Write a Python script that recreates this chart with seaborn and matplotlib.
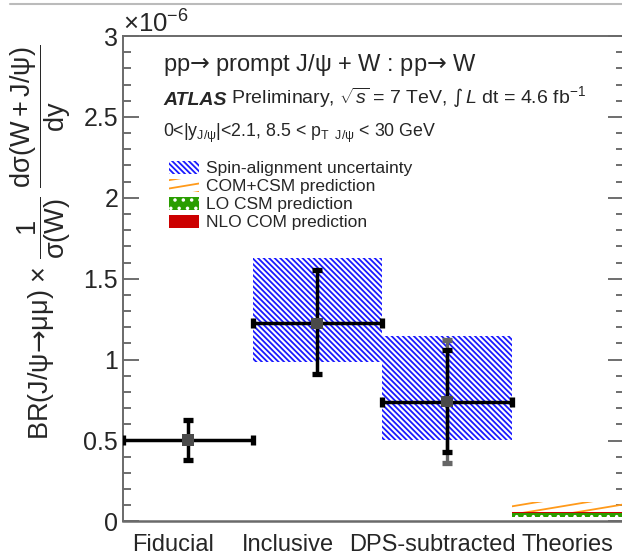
import warnings
import numpy as np
import matplotlib
matplotlib.use("Agg")
import matplotlib.pyplot as plt
from matplotlib.patches import Patch
from matplotlib.lines import Line2D
from matplotlib import hatch as mhatch
from matplotlib.path import Path
import seaborn as sns
import pandas as pd

warnings.filterwarnings("ignore")

# ---------------- data (values in units of 1e-6) ----------------
categories = ["Fiducial", "Inclusive", "DPS-subtracted", "Theories"]
meas_x = [0.5, 1.5, 2.5]
meas_val = [0.503, 1.224, 0.740]
meas_xerr = [0.5, 0.5, 0.5]
stat_lo = [0.123, 0.313, 0.309]
stat_hi = [0.124, 0.330, 0.320]
# outer (gray) uncertainty for DPS-subtracted
dps_outer_lo = [0.377]
dps_outer_hi = [0.381]
# spin-alignment uncertainty boxes (Inclusive, DPS-subtracted)
spin_x = [1.5, 2.5]
spin_lo = [0.987, 0.503]
spin_hi = [1.626, 1.146]
# theory predictions (Theories bin)
theory_names = ["COM+CSM prediction", "LO CSM prediction", "NLO COM prediction"]
theory_lo = [0.058, 0.029, 0.050]
theory_hi = [0.122, 0.050, 0.060]
legend_labels = ["Spin-alignment uncertainty", "COM+CSM prediction",
                 "LO CSM prediction", "NLO COM prediction"]


# shallow slanted hatch (ROOT-like), registered as hatch character 's'
class ShallowHatch(mhatch.HatchPatternBase):
    def __init__(self, hatch, density):
        self.num_lines = int(hatch.count("s") * density)
        self.num_vertices = self.num_lines * 4

    def set_vertices_and_codes(self, vertices, codes):
        n = self.num_lines
        steps, stepsize = np.linspace(0.0, 1.0, n, False, retstep=True)
        rise = 2 * stepsize
        v = vertices.reshape(n, 4, 2)
        v[:, 0, 0] = 0.0
        v[:, 0, 1] = steps
        v[:, 1, 0] = 1.0
        v[:, 1, 1] = steps + rise
        v[:, 2, 0] = 0.0
        v[:, 2, 1] = steps - 1.0
        v[:, 3, 0] = 1.0
        v[:, 3, 1] = steps + rise - 1.0
        codes[0::2] = Path.MOVETO
        codes[1::2] = Path.LINETO


if ShallowHatch not in mhatch._hatch_types:
    mhatch._hatch_types.append(ShallowHatch)

# ---------------- style ----------------
sns.set_style("white")
plt.rcParams["font.family"] = ["Liberation Sans", "DejaVu Sans"]
plt.rcParams["mathtext.fontset"] = "custom"
plt.rcParams["mathtext.rm"] = "Liberation Sans"
plt.rcParams["mathtext.it"] = "Liberation Sans:italic"
plt.rcParams["mathtext.bf"] = "Liberation Sans:bold"
plt.rcParams["mathtext.cal"] = "DejaVu Sans"
plt.rcParams["mathtext.default"] = "regular"
plt.rcParams["hatch.linewidth"] = 1.3

ARROW = r"\mathcal{→}"

W, H = 622, 557
fig = plt.figure(figsize=(W / 100, H / 100), dpi=100)
ax = fig.add_axes([123 / W, (H - 521.4) / H, (624 - 123) / W, (521.4 - 36) / H])

xmax = (624 - 123) / 129.5
ax.set_xlim(0, xmax)
ax.set_ylim(0, 3.0)

blue = "#1a1aff"
orange = "#ff9a1a"
green = "#2a9d00"
red = "#cc0000"
spin_hatch = "\\" * 6

# spin-alignment hatched boxes
ax.bar(spin_x, np.array(spin_hi) - np.array(spin_lo), bottom=spin_lo, width=1.0,
       fill=False, hatch=spin_hatch, edgecolor=blue, linewidth=0, zorder=1)

# theory bands
th_styles = {"COM+CSM prediction": ("none", orange, "ss"),
             "LO CSM prediction": (green, "white", ".."),
             "NLO COM prediction": (red, red, None)}
for name, lo, hi in zip(theory_names, theory_lo, theory_hi):
    fc, ec, hatch = th_styles[name]
    ax.fill_between([3.0, 4.0], [lo, lo], [hi, hi], facecolor=fc, edgecolor=ec,
                    hatch=hatch, linewidth=0, zorder=1)

# DPS outer (gray) error bar
ax.errorbar([meas_x[2]], [meas_val[2]], yerr=[dps_outer_lo, dps_outer_hi],
            fmt="none", ecolor="#666666", elinewidth=2.4, capsize=3.8,
            capthick=3.8, zorder=2)
# main error bars
ax.errorbar(meas_x, meas_val, xerr=meas_xerr, yerr=[stat_lo, stat_hi],
            fmt="none", ecolor="black", elinewidth=2.5, capsize=3.8,
            capthick=3.8, zorder=3)
df = pd.DataFrame({"x": meas_x, "y": meas_val})
sns.scatterplot(data=df, x="x", y="y", marker="s", s=70, color="#4a4a4a",
                edgecolor="none", ax=ax, zorder=4, legend=False)

# axes styling
for side in ["left", "right", "top", "bottom"]:
    ax.spines[side].set_visible(True)
    ax.spines[side].set_color("#6a6a6a")
    ax.spines[side].set_linewidth(1.4)
ax.spines["bottom"].set_linewidth(1.8)

ax.set_yticks(np.arange(0, 3.01, 0.5))
ax.set_yticks(np.arange(0, 3.01, 0.1), minor=True)
ax.set_yticklabels(["0", "0.5", "1", "1.5", "2", "2.5", "3"])
ax.tick_params(axis="y", which="both", direction="in", left=True, right=True,
               color="#555555", width=1.2, labelsize=18, pad=3.5)
ax.tick_params(axis="y", which="major", length=11.5)
ax.tick_params(axis="y", which="minor", length=5.8)

label_pos = [0.39, 1.27, 2.39, 3.43]
ax.set_xticks(label_pos)
ax.set_xticklabels(categories)
ax.tick_params(axis="x", length=0, labelsize=17, pad=9)
ax.set_xlabel("")
ax.set_ylabel("")

# y label
fig.text(41 / W, 1 - 242 / H,
         r"BR(J/$\psi" + ARROW + r"\mu\mu$) $\times$ $\dfrac{1}{\sigma(W)}$ $\dfrac{d\sigma(W+J/\psi)}{dy}$",
         rotation=90, ha="center", va="center", fontsize=19.5)

# exponent
ax.text(0.0, 1.006, r"$\times$10$^{-6}$", transform=ax.transAxes, ha="left",
        va="baseline", fontsize=18.5)

# annotations
x0 = (163 - 123) / (624 - 123)
ax.text(x0, 0.940, r"pp$" + ARROW + r"$ prompt J/$\psi$ + W : pp$" + ARROW + r"$ W",
        transform=ax.transAxes, ha="left", va="center", fontsize=17)
t1 = ax.text(x0, 0.868, "ATLAS", transform=ax.transAxes, ha="left",
             va="center", fontsize=14, fontweight="bold", fontstyle="italic")
ax.annotate(r" Preliminary, $\sqrt{\mathit{s}}$ = 7 TeV, $\mathcal{∫}\,\mathit{L}$ dt = 4.6 fb$^{-1}$",
            xy=(1, 0), xycoords=t1, ha="left", va="bottom", fontsize=14)
ax.text(x0, 0.800, r"0<|y$_{J/\psi}$|<2.1, 8.5 < p$_{T\ \ J/\psi}$ < 30 GeV",
        transform=ax.transAxes, ha="left", va="center", fontsize=12.8)

handles = [
    Patch(facecolor="none", edgecolor=blue, hatch=spin_hatch, linewidth=0),
    Patch(facecolor="none", edgecolor=orange, hatch="ss", linewidth=0),
    Patch(facecolor=green, edgecolor="white", hatch="..", linewidth=0),
    Patch(facecolor=red, edgecolor=red, linewidth=0),
]
ax.legend(handles, legend_labels, loc="upper left",
          bbox_to_anchor=((169 - 123) / (624 - 123), (521.4 - 161) / (521.4 - 36)),
          frameon=False, fontsize=12.5, handlelength=1.75, handleheight=0.75,
          labelspacing=0.15, handletextpad=0.4, borderpad=0, borderaxespad=0)

# thin border line at top of canvas
fig.add_artist(Line2D([10 / W, 1.0], [1 - 4 / H, 1 - 4 / H], transform=fig.transFigure,
                      color="#bbbbbb", linewidth=1.5))

fig.savefig("out.png", dpi=100)
